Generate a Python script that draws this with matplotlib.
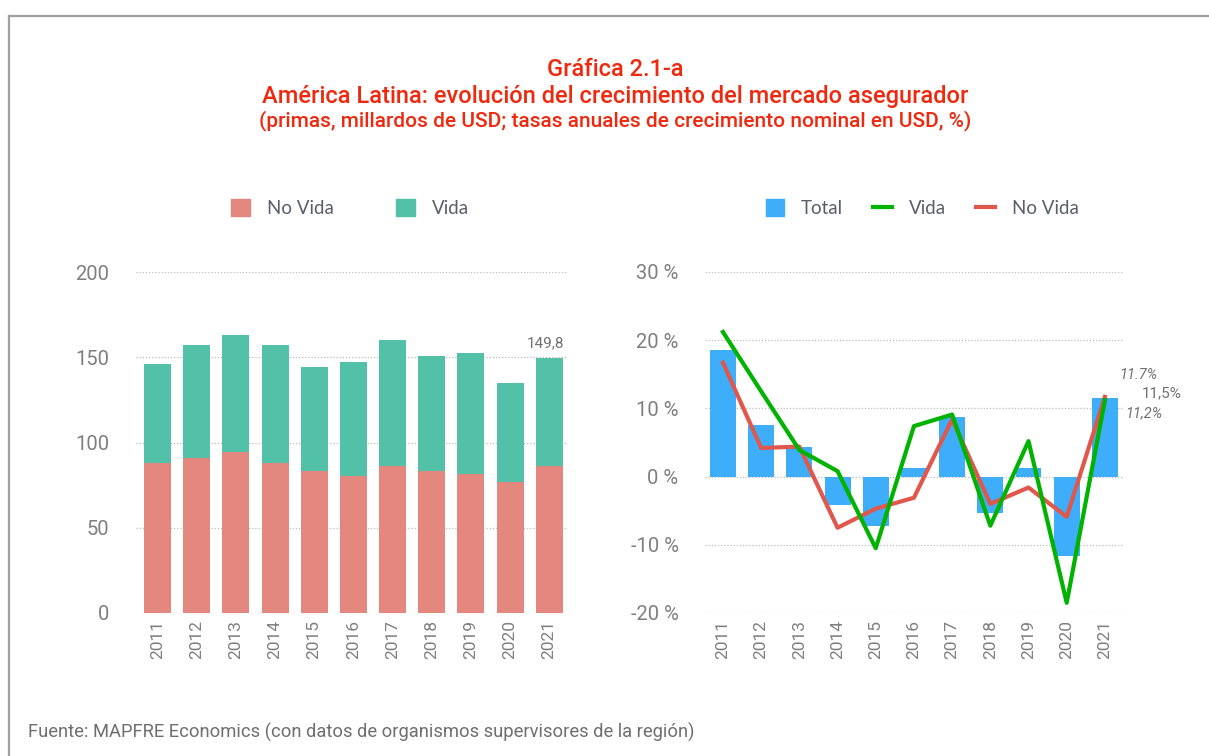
import matplotlib
matplotlib.use("Agg")
import matplotlib.pyplot as plt
from matplotlib.patches import Patch
from matplotlib.lines import Line2D
import numpy as np

years = ["2011", "2012", "2013", "2014", "2015", "2016", "2017", "2018", "2019", "2020", "2021"]
no_vida = [88.0, 91.1, 94.2, 88.0, 83.3, 80.2, 86.4, 83.3, 81.7, 77.0, 86.4]
totals = [146.0, 157.2, 163.0, 157.2, 144.3, 147.2, 160.1, 150.7, 152.5, 134.9, 149.8]
vida = [t - n for t, n in zip(totals, no_vida)]

growth_total = [18.5, 7.5, 4.4, -4.2, -7.3, 1.3, 8.7, -5.4, 1.3, -11.7, 11.5]
growth_vida = [21.2, 12.5, 3.9, 0.8, -10.5, 7.4, 9.1, -7.2, 5.2, -18.5, 11.2]
growth_novida = [16.7, 4.2, 4.4, -7.5, -4.7, -3.1, 8.4, -4.0, -1.6, -5.9, 11.7]

C_NOVIDA = "#E4877F"
C_VIDA = "#52C1A8"
C_TOTAL = "#3EADFA"
C_GREEN = "#00B300"
C_RED = "#E0574C"
C_TICK = "#7F7F7F"
C_TITLE = "#F0280E"
C_LEG = "#5A5D6B"

plt.rcParams["font.family"] = ["Roboto", "DejaVu Sans"]

fig = plt.figure(figsize=(12.09, 7.56), dpi=100)
W, H = 1209, 756

# frame
fig.add_artist(Line2D([8.5 / W, 8.5 / W], [0, 1 - 16 / H], color="#A0A0A0", lw=1.6))
fig.add_artist(Line2D([8.5 / W, 1], [1 - 16 / H, 1 - 16 / H], color="#A0A0A0", lw=1.6))

# titles
fig.text(615 / W, 1 - 70 / H, "Gráfica 2.1-a", color=C_TITLE, fontsize=17, fontweight="medium",
         ha="center", va="center")
fig.text(615 / W, 1 - 96 / H, "América Latina: evolución del crecimiento del mercado asegurador",
         color=C_TITLE, fontsize=17, fontweight="medium", ha="center", va="center")
fig.text(615 / W, 1 - 121 / H, "(primas, millardos de USD; tasas anuales de crecimiento nominal en USD, %)",
         color=C_TITLE, fontsize=15, fontweight="medium", ha="center", va="center")
fig.text(28 / W, 1 - 732 / H, "Fuente: MAPFRE Economics (con datos de organismos supervisores de la región)",
         color="#6E6E6E", fontsize=13.2, ha="left", va="center")

x = np.arange(len(years))

# left chart
ax1 = fig.add_axes([136 / W, 1 - 613 / H, 432 / W, 341 / H])
ax1.bar(x, no_vida, width=0.69, color=C_NOVIDA, zorder=2)
ax1.bar(x, vida, bottom=no_vida, width=0.69, color=C_VIDA, zorder=2)
ax1.set_ylim(0, 200)
ax1.set_xlim(-0.55, 10.48)
ax1.set_yticks([0, 50, 100, 150, 200])
ax1.yaxis.grid(True, linestyle=(0, (1, 1.5)), color="#BDBDBD", lw=0.9, zorder=0)
ax1.set_xticks(x)
ax1.set_xticklabels(years, rotation=90)
ax1.annotate("149,8", (x[-1], totals[-1]), xytext=(-3, 5), textcoords="offset points",
             ha="center", va="bottom", color="#707070", fontsize=11)

# right chart
ax2 = fig.add_axes([705 / W, 1 - 613 / H, 419 / W, 341 / H])
ax2.bar(x, growth_total, width=0.68, color=C_TOTAL, zorder=2)
ax2.plot(x, growth_novida, color=C_RED, lw=3, zorder=3)
ax2.plot(x, growth_vida, color=C_GREEN, lw=3, zorder=4)
ax2.set_ylim(-20, 30)
ax2.set_xlim(-0.47, 10.5)
ax2.set_yticks([-20, -10, 0, 10, 20, 30])
ax2.set_yticklabels(["-20 %", "-10 %", "0 %", "10 %", "20 %", "30 %"])
ax2.yaxis.grid(True, linestyle=(0, (1, 1.5)), color="#BDBDBD", lw=0.9, zorder=0)
ax2.set_xticks(x)
ax2.set_xticklabels(years, rotation=90)
ax2.annotate("11.7%", (x[-1], growth_novida[-1]), xytext=(24, 16), textcoords="offset points",
             ha="center", va="center", color="#707070", fontsize=10.5, style="italic")
ax2.annotate("11,5%", (x[-1], growth_total[-1]), xytext=(41, 3.5), textcoords="offset points",
             ha="center", va="center", color="#707070", fontsize=11)
ax2.annotate("11,2%", (x[-1], growth_vida[-1]), xytext=(28, -9.5), textcoords="offset points",
             ha="center", va="center", color="#707070", fontsize=10.5, style="italic")

for ax in (ax1, ax2):
    for s in ax.spines.values():
        s.set_visible(False)
    ax.tick_params(axis="y", length=0, labelsize=14.5, labelcolor=C_TICK, pad=19)
    ax.tick_params(axis="x", length=0, labelsize=12.5, labelcolor=C_TICK, pad=5)
    ax.set_axisbelow(True)

# legends
leg1 = fig.legend(handles=[Patch(color=C_NOVIDA, label="No Vida"), Patch(color=C_VIDA, label="Vida")],
                  loc="center", bbox_to_anchor=(350 / W, 1 - 208 / H), ncol=2, frameon=False,
                  fontsize=13.5, handlelength=1.0, handleheight=1.0, columnspacing=3.3, handletextpad=0.9)
for t in leg1.get_texts():
    t.set_color(C_LEG)
    t.set_family(["Lato", "DejaVu Sans"])
leg2 = fig.legend(handles=[Patch(color=C_TOTAL, label="Total"),
                           Line2D([], [], color=C_GREEN, lw=3, label="Vida"),
                           Line2D([], [], color=C_RED, lw=3, label="No Vida")],
                  loc="center", bbox_to_anchor=(922 / W, 1 - 208 / H), ncol=3, frameon=False,
                  fontsize=13.5, handlelength=1.0, handleheight=1.0, columnspacing=1.6, handletextpad=0.9)
for t in leg2.get_texts():
    t.set_color(C_LEG)
    t.set_family(["Lato", "DejaVu Sans"])

fig.savefig("out.png", dpi=100)
